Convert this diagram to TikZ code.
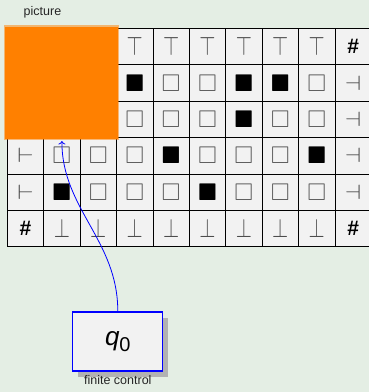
\documentclass[tikz,border=0pt]{standalone}
\usepackage{amssymb}
\usepackage{fontspec}
\setmainfont{Liberation Sans}
\usetikzlibrary{arrows.meta, positioning, shadows}

\definecolor{bgcol}{RGB}{228,238,228}
\definecolor{cellcol}{RGB}{242,242,242}

% cell symbols
\newcommand{\symN}{}
\newcommand{\symT}{\textcolor{black!70}{\scalebox{1.2}[1.55]{$\top$}}}
\newcommand{\symB}{\textcolor{black!70}{\scalebox{1.2}[1.55]{$\bot$}}}
\newcommand{\symL}{\textcolor{black!70}{\scalebox{1.55}[1.2]{$\vdash$}}}
\newcommand{\symR}{\textcolor{black!70}{\scalebox{1.55}[1.2]{$\dashv$}}}
\newcommand{\symE}{\textcolor{black!65}{\scalebox{1.4}{$\square$}}}
\newcommand{\symF}{\scalebox{1.4}{$\blacksquare$}}
\newcommand{\symH}{{\fontsize{21}{21}\selectfont\bfseries\#}}

\tikzset{
  cell/.style={draw, line width=0.8pt, fill=cellcol, minimum size=36.4pt,
    inner sep=0pt, outer sep=0pt, font=\fontsize{17.28}{20}\selectfont},
  picbox/.style={fill=orange, draw=orange, draw opacity=0.5, line width=2.6pt},
  ctrl/.style={draw=blue, line width=1.3pt, fill=cellcol, minimum width=90pt,
    minimum height=59pt,
    drop shadow={shadow xshift=5.5pt, shadow yshift=-5.5pt, fill=black!30, opacity=1}},
  lbl/.style={font=\fontsize{12.5}{14}\selectfont, text=black!85},
}

\begin{document}
\begin{tikzpicture}[x=1pt, y=-1pt, >={To[length=3.5pt, width=7pt]}]
    \fill[bgcol] (0,0) rectangle (369,392);
    \clip (0,0) rectangle (369,392);

    % the tape
    \foreach \rowsyms [count=\ri from 0] in {
      {\symN,\symN,\symN,\symT,\symT,\symT,\symT,\symT,\symT,\symH},
      {\symN,\symN,\symN,\symF,\symE,\symE,\symF,\symF,\symE,\symR},
      {\symN,\symN,\symN,\symE,\symE,\symE,\symF,\symE,\symE,\symR},
      {\symL,\symE,\symE,\symE,\symF,\symE,\symE,\symE,\symF,\symR},
      {\symL,\symF,\symE,\symE,\symE,\symF,\symE,\symE,\symE,\symR},
      {\symH,\symB,\symB,\symB,\symB,\symB,\symB,\symB,\symB,\symH}} {
      \foreach \cellsym [count=\ci from 0] in \rowsyms {
        \node[cell] (c-\ri-\ci) at ({25.5+36.4*\ci}, {46.5+36.4*\ri}) {\cellsym};
      }
    }

    \node[lbl] (piclabel) at (42.5, 12) {picture};

    \node[ctrl] (fc) at (117.8, 341.5)
      {\fontsize{26}{28}\selectfont\itshape q\raisebox{-5.5pt}{\upshape\fontsize{20}{20}\selectfont 0}};
    \node[lbl, below=0pt of fc] (fclabel) {finite control};

    \draw[->, blue, line width=0.8pt, shorten >=3.5pt] (fc.north) to[out=90, in=-90] (c-3-1.north);

    % the window
    \draw[picbox] ([shift={(-2pt,1.7pt)}]c-0-0.north west) rectangle ([shift={(1.6pt,-1.5pt)}]c-2-2.south east);
\end{tikzpicture}
\end{document}
